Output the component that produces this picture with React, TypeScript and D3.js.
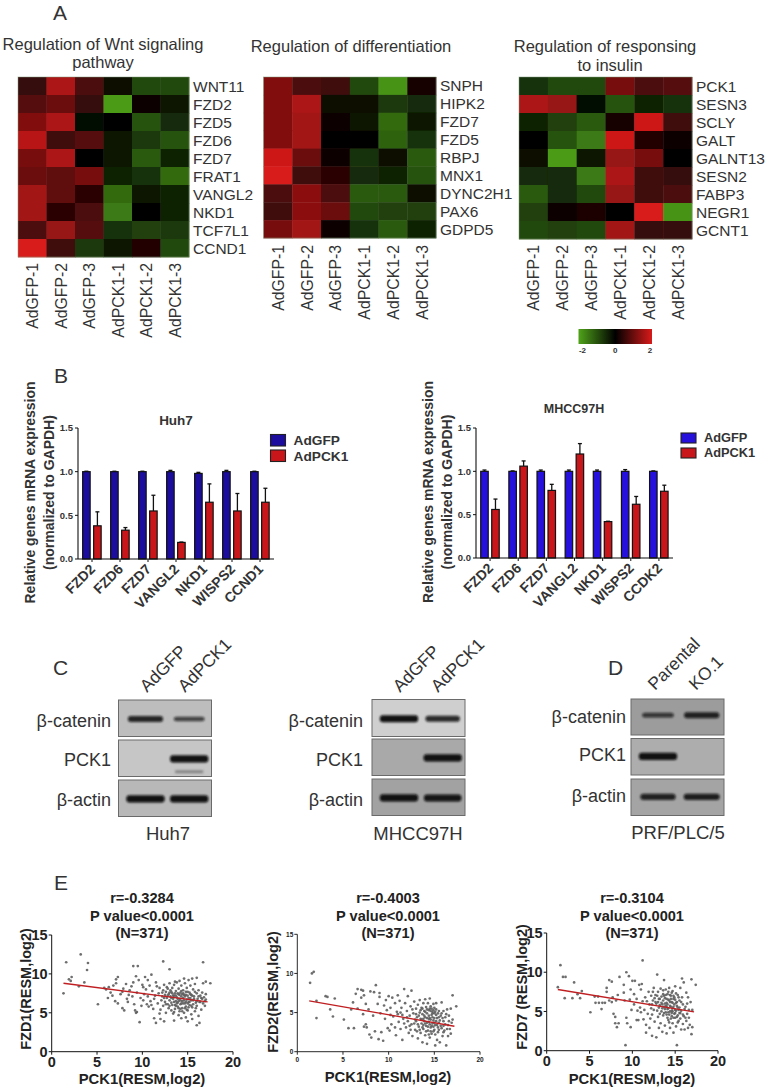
import React from "react";
import * as d3 from "d3";

const samples = ["AdGFP-1", "AdGFP-2", "AdGFP-3", "AdPCK1-1", "AdPCK1-2", "AdPCK1-3"];
const wntGenes = ["WNT11", "FZD2", "FZD5", "FZD6", "FZD7", "FRAT1", "VANGL2", "NKD1", "TCF7L1", "CCND1"];
const wntValues = [
  [0.5, 1.6, 0.7, -0.2, -0.9, -0.9],
  [0.8, 1.0, 0.5, -1.9, 0.1, -0.3],
  [1.2, 1.6, -0.1, -0.05, -1.0, -0.5],
  [1.7, 0.6, 0.8, -0.3, -0.7, -1.0],
  [1.1, 1.6, 0, -0.3, -1.1, -0.4],
  [1.0, 0.9, 1.1, -0.4, -0.6, -1.3],
  [1.5, 0.9, 0.4, -1.3, -0.3, -0.4],
  [1.5, 0.4, 0.7, -1.5, -0.05, -0.4],
  [0.7, 1.4, 0.8, -0.6, -0.8, -0.7],
  [2.0, 0.6, -0.7, -0.3, 0.3, -0.9],
];
const diffGenes = ["SNPH", "HIPK2", "FZD7", "FZD5", "RBPJ", "MNX1", "DYNC2H1", "PAX6", "GDPD5"];
const diffValues = [
  [1.2, 0.7, 0.6, -0.9, -1.8, 0.2],
  [1.2, 1.6, -0.2, -0.2, -0.7, -0.5],
  [1.2, 1.5, 0.1, -0.3, -1.3, -0.3],
  [1.2, 1.5, 0, 0, -1.2, -0.6],
  [1.9, 1.0, 0.15, -0.6, -0.2, -1.1],
  [2.0, 0.6, 0.4, -0.5, -0.4, -1.0],
  [0.7, 1.3, 0.7, -1.1, -1.1, -0.2],
  [0.6, 1.3, 1.0, -0.9, -0.8, -0.8],
  [1.1, 1.5, 0.1, -0.6, -1.1, -0.4],
];
const insulinGenes = ["PCK1", "SESN3", "SCLY", "GALT", "GALNT13", "SESN2", "FABP3", "NEGR1", "GCNT1"];
const insulinValues = [
  [-0.6, -0.9, -0.9, 1.1, 0.7, 0.8],
  [1.6, 1.4, -0.1, -1.0, -0.4, -0.6],
  [-0.4, -0.8, -1.1, 0.2, 1.9, 0.6],
  [0.05, -1.0, -1.5, 1.9, 0.3, 0.15],
  [-0.2, -1.9, -0.3, 1.4, 1.1, 0],
  [-0.5, -0.5, -1.5, 1.6, 0.6, 0.5],
  [-1.1, -0.5, -0.9, 1.4, 0.6, 0.7],
  [-0.8, 0.1, 0.25, 0, 2.0, -1.8],
  [-0.9, -0.8, -0.9, 1.5, 0.5, 0.5],
];
const heatTicks = [-2, 0, 2];
const barTicks = [0, 0.5, 1, 1.5];

const huhGenes = ["FZD2", "FZD6", "FZD7", "VANGL2", "NKD1", "WISPS2", "CCND1"];
const huhGfp = [1, 1, 1, 1, 0.98, 1, 1];
const huhGfpErr = [0.005, 0.005, 0.005, 0.015, 0.012, 0.015, 0.005];
const huhPck = [0.38, 0.33, 0.55, 0.19, 0.65, 0.55, 0.65];
const huhPckErr = [0.16, 0.03, 0.18, 0.004, 0.21, 0.2, 0.16];
const mhccGenes = ["FZD2", "FZD6", "FZD7", "VANGL2", "NKD1", "WISPS2", "CCDK2"];
const mhccGfp = [1, 1, 1, 1, 1, 1, 1];
const mhccGfpErr = [0.015, 0.005, 0.015, 0.015, 0.015, 0.02, 0.005];
const mhccPck = [0.56, 1.06, 0.78, 1.2, 0.42, 0.62, 0.77];
const mhccPckErr = [0.12, 0.06, 0.07, 0.12, 0.004, 0.09, 0.07];

const scatterXTicks = [0, 5, 10, 15, 20];
const scatterYTicks = [0, 5, 10, 15];

const fzd1Points: number[][] = [
  [1.3,7.5],[1.6,11.5],[1.9,9.3],[2.1,9.1],[2.2,9.6],[3.2,12.5],[3,8.4],[3.6,8.9],[4,11.4],[3.9,10.5],[5.1,6.1],[5.8,8.2],[6,8],[6.3,8.3],[6.5,7.6],[6.7,7.2],[7.1,9.3],[7.3,9.6],[7.1,8.8],[6.8,8.5],[7.3,6.2],[7,6.5],[7.8,5.6],[8,5.3],[7.8,7.7],[8.2,8.7],[8.5,7.3],[8.8,8.4],[9,11],[9.5,11],[9.3,9.7],[9.6,9.2],[9.1,6.1],[9.2,5.3],[9.3,5],[9.4,5.1],[9.7,3.8],[10,8.6],[10.1,8.3],[10.3,9.6],[10.6,9.2],[11,9.9],[10.5,6.1],[10.7,5.8],[11,6],[11.3,4.3],[11.5,3.7],[12,4.2],[12.4,3.9],[12.3,11.6],[13,10.6],[13.5,4],[14.3,4.3],[14.8,4.4],[15,3.9],[15.5,4.2],[16,3.4],[16.3,3.7],[16.7,11.5],[17,9],[17.5,8.8],[16.7,8.8],[16,9.5],[15.5,9.4],
  [8.4,6.4],[8.9,7.1],[9.4,7.6],[9.8,6.9],[10.2,7.4],[10.4,8],[10.8,8.5],[11.1,7.8],[11.3,6.8],[11.4,7.2],[11.5,8.9],[11.7,6.2],[11.8,7.5],[11.9,8.2],[12,5.4],[12.1,6.6],[12.2,7.1],[12.3,7.9],[12.3,5.9],[12.4,8.6],[12.5,6.4],[12.5,7.3],[12.6,5],[12.6,7.7],[12.7,6.9],[12.7,8.3],[12.8,6.1],[12.9,7.4],[12.9,5.6],[13,8.8],[13,6.6],[13.1,7.1],[13.1,7.9],[13.2,5.3],[13.2,6.3],[13.3,8.2],[13.3,7.5],[13.4,6.8],[13.4,4.9],[13.5,7.2],[13.5,8.6],[13.6,6],[13.6,5.5],[13.7,7.8],[13.7,6.5],[13.8,8.9],[13.8,7],[13.9,5.8],[13.9,6.3],[14,8.1],[14,7.4],[14,4.7],[14.1,6.8],[14.1,5.2],[14.2,7.6],[14.2,6.1],[14.3,8.5],[14.3,7.1],[14.4,5.6],[14.4,6.5],[14.5,7.9],[14.5,6.9],[14.6,5],[14.6,7.3],[14.7,8.8],[14.7,6.2],[14.8,7.7],[14.8,5.8],[14.9,6.7],[14.9,8.2],[15,7.2],[15,5.3],[15.1,6.4],[15.1,9.2],[15.2,7.6],[15.2,6],[15.3,8.5],[15.3,6.9],[15.4,4.8],[15.4,7.3],[15.5,5.7],[15.6,8],[15.6,6.6],[15.7,7.1],[15.8,5.2],[15.8,8.7],[15.9,6.3],[16,7.5],[16,5.9],[16.1,6.8],[16.2,4.6],[16.2,7.9],[16.3,6.4],[16.4,7.2],[16.5,5.4],[16.5,6.9],[16.6,7.6],[16.7,6.2],[16.8,7],[16.9,5.9],[17,6.7],[17,7.4],
  [6.2,6.9],[7.6,7.4],[7.9,8.1],[8.3,6.8],[8.6,7.9],[9,8.9],[9.9,5.9],[10.1,6.6],[10.6,7.1],[10.9,6.5],[11.2,5.5],[11.6,8.4],[11.9,4.9],[12.8,8.1],[13.6,9],[14.1,9.1],[14.6,9.4],
  [12.2,7.6],[12.4,6.9],[12.6,6.1],[12.8,7.2],[13,7.6],[13,5.9],[13.2,6.9],[13.2,7.7],[13.3,6],[13.4,7.2],[13.5,6.4],[13.5,5.1],[13.6,7.5],[13.7,5.9],[13.7,7.2],[13.8,6.2],[13.9,7.5],[13.9,6.8],[14,5.6],[14,6.5],[14.1,7.3],[14.2,6.6],[14.2,5.5],[14.3,7.8],[14.3,6.2],[14.4,7.4],[14.4,5.2],[14.5,6.2],[14.5,7.5],[14.6,6.6],[14.7,5.6],[14.7,7.1],[14.8,6.4],[14.8,7.3],[14.9,5.4],[15,6.2],[15,7.7],[15.1,5.7],[15.1,6.9],[15.2,6.4],[15.3,7.4],[15.4,5.9],[15.4,6.6],[15.5,7.2],[15.6,6.1],[15.7,6.8],[15.8,7.7],[15.9,5.6],[16,6.5],[16.2,7.1],[16.4,6.4],[16.6,6.8],[16.9,6.5],
];
const fzd2Points: number[][] = [
  [1.4,8.8],[1.6,10],[1.8,10.2],[2.1,6.5],[2.1,4.3],[3.1,7.1],[3.3,7],[3.6,5.4],[3.9,4.5],[4.1,6.8],[5.1,4.1],[5.6,3],[5.9,5.4],[6.1,6.3],[6.2,3],[6.4,7.4],[6.6,5.5],[6.6,8],[7,6.9],[7,7.9],[7.2,7.8],[7.3,7.2],[7.2,4.8],[7.3,3.2],[7.5,3.5],[7.5,6.1],[7.6,3.1],[7.8,5.4],[7.9,2.2],[8,7.7],[8.1,1.8],[8.3,4.6],[8.4,7.6],[8.5,2.6],[8.6,8.5],[8.8,6.1],[9,7.5],[9,7],[9.1,4.9],[9.2,2.5],[8.9,1.6],[9.4,1.4],[9.5,5.9],[9.6,4.2],[9.7,6.6],[9.9,3],[10,7.1],[10.1,2.7],[10.2,5.6],[10.3,3.5],[10.4,6.9],[10.5,4.5],[10.7,6.2],[10.8,2.1],[10.9,5.1],[11,7.2],[11.1,3.8],[11.2,6.5],[11.3,2.9],[11.4,5.6],[11.5,1.5],[11.6,4.2],[11.7,8],[11.8,6.2],[11.9,3.1],[12,5.2],[12.1,7.1],[12.2,2.4],[12.3,4.6],[12.4,5.8],[12.5,7.8],[12.5,3.5],[12.6,2],[12.7,4.9],[12.8,6.4],[12.9,2.8],[13,5.5],[13,3.9],[13.1,4.4],[13.2,6],[13.2,1.7],[13.3,3.2],[13.4,5],[13.4,6.6],[13.5,2.4],[13.5,4.2],[13.6,5.6],[13.6,3.6],[13.7,1.2],[13.7,4.8],[13.8,6.2],[13.8,2.9],[13.9,5.2],[13.9,3.9],[14,6.7],[14,2.1],[14,4.4],[14.1,5.7],[14.1,3.3],[14.2,1],[14.2,4.9],[14.3,6.2],[14.3,2.7],[14.4,5.3],[14.4,3.8],[14.5,4.3],[14.5,6.8],[14.5,1.8],[14.6,5.8],[14.6,3.1],[14.7,4.7],[14.7,2.3],[14.8,5.1],[14.8,3.6],[14.9,6.1],[14.9,4],[15,2.8],[15,4.9],[15.1,0.8],[15.1,3.4],[15.2,6.2],[15.2,5.4],[15.3,1.5],[15.3,4.3],[15.4,2.5],[15.5,5.2],[15.5,3.7],[15.6,1.2],[15.7,4.6],[15.8,6.3],[15.8,3],[15.9,2],[16,5.2],[16,3.9],[16.1,2.7],[16.2,4.4],[16.3,0.8],[16.4,5.4],[16.5,3.4],[16.5,2],[16.6,4.6],[16.7,2.9],[16.8,5.5],[16.9,3.7],[17,7.2],[17,4.1],[17.4,5.8],
  [11,4.8],[11.3,5],[11.7,3.6],[12.1,3.9],[12.6,5.4],[12.9,4.1],[13.3,4.6],[13.6,4.1],[13.9,4.6],[14.2,3.7],[14.4,4.6],[14.6,5.2],[14.8,4.4],[15,5.6],[15.2,3.9],[15.5,4.4],[15.8,4.9],[16,3.3],[16.3,4.8],[10.2,4.7],[9.8,5.3],[10.7,3.1],[12.3,3.3],[13.1,2.6],[13.8,3.4],[14.9,2.6],[15.4,3.1],
  [11.5,4.7],[12,4.4],[12.4,2.8],[12.8,3.6],[13,4.8],[13.2,3.5],[13.4,2.8],[13.5,5.3],[13.7,3.1],[13.7,5.5],[13.8,4.2],[14,3.6],[14,5.1],[14.1,2.6],[14.2,4.3],[14.2,5.4],[14.3,3.2],[14.4,4.2],[14.4,2.2],[14.5,3.5],[14.5,5.5],[14.6,4.1],[14.6,2.6],[14.7,5.5],[14.7,3.3],[14.8,4.9],[14.9,3.2],[14.9,5.3],[15,3.7],[15,4.3],[15.1,5.1],[15.1,2.2],[15.2,4.7],[15.3,3.4],[15.4,4.9],[15.5,2.8],[15.6,4],[15.7,3.3],[15.9,4.3],[16,2.5],[16.2,3.5],[16.4,2.9],[16.6,3.9],[16.8,2.3],
];
const fzd7Points: number[][] = [
  [1.3,8.1],[1.6,10.9],[1.9,9.4],[2.2,9.4],[2.1,6.7],[3,6.7],[3.2,8.7],[3.6,7.2],[3.9,6.7],[4.1,7.6],[5.1,4.9],[5.6,6.9],[5.7,6.1],[6,6.9],[6.1,6.1],[6.4,5.3],[6.5,6.1],[6.8,6.1],[7,7.5],[7,8],[7.3,6.4],[7.3,9],[7.6,8.8],[7.6,6.2],[7.7,6.8],[7.8,4.7],[8,4.3],[8.1,6.4],[8,3.5],[8.2,3],[8.3,7.1],[8.4,3.5],[8.5,9.4],[9,8.4],[9,7.4],[9.1,6.4],[9.3,10],[9.3,4.2],[9.4,3.5],[9.2,0.7],[9.6,9.5],[9.7,6.5],[9.8,7.8],[9.8,3],[10,8.9],[10.2,7.2],[10.3,8.9],[10.5,6.6],[10.5,3.9],[10.7,3.9],[10.8,8.4],[11,4.9],[11,7.8],[11.2,11.5],[11.1,8.5],[11.2,6.3],[11.3,4],[11.5,6.8],[11.6,3.3],[11.6,2.3],[11.8,4.7],[11.9,7.5],[12,5.9],[12,2.9],[12.2,7],[12.3,1.9],[12.3,4.6],[12.4,6.4],[12.5,5.2],[12.5,8],[12.6,3.7],[12.7,7.1],[12.8,1.7],[12.8,6],[12.9,9.7],[13,4.3],[13,7.5],[13.1,5.5],[13.1,2.9],[13.2,6.6],[13.3,7.9],[13.3,3.5],[13.4,5],[13.4,6.1],[13.5,2.4],[13.6,7.2],[13.6,4.5],[13.7,5.6],[13.7,9],[13.8,6.7],[13.8,3.2],[13.9,4.9],[13.9,7.8],[14,6.1],[14,2.2],[14.1,5.3],[14.1,7.2],[14.2,3.9],[14.2,6.5],[14.3,4.6],[14.3,8],[14.4,5.7],[14.4,2.9],[14.5,7],[14.5,4.1],[14.6,6.2],[14.6,5.1],[14.7,7.6],[14.7,3.5],[14.8,5.6],[14.8,2.3],[14.9,4.7],[14.9,6.8],[15,5.2],[15,8.2],[15.1,3.1],[15.1,6.1],[15.2,0.7],[15.2,4.3],[15.3,7.1],[15.3,5.5],[15.4,3.8],[15.5,6.4],[15.5,4.8],[15.6,8],[15.7,2.7],[15.7,5.1],[15.8,9.2],[15.8,6.8],[15.9,3.4],[16,4.4],[16,8.7],[16.1,2.7],[16.2,5.6],[16.3,7.4],[16.3,3.8],[16.4,4.7],[16.5,6.8],[16.5,2.9],[16.6,5.2],[16.7,3.3],[16.8,6.2],[16.9,2.1],[16.9,9.1],[17,5.2],[17,3],[17.4,8.4],
  [10.9,5.5],[11.4,5.2],[11.7,6.3],[12.2,5.4],[12.6,6.7],[12.9,5.1],[13.2,4.7],[13.5,5.9],[13.8,5.3],[14,5.6],[14.2,4.9],[14.4,6.2],[14.6,4.4],[14.8,6.6],[15,4.2],[15.2,5.7],[15.4,5.2],[15.6,4.1],[15.9,5.9],[16.2,4.2],[10.2,5.9],[9.9,5.2],[10.6,5.1],[12.1,4.1],[12.4,7.5],[13,6.2],[13.6,7.7],[14.1,4.2],[14.7,5],[15.3,4.5],
  [12.3,5.9],[12.7,6.2],[12.9,7],[13.1,6.6],[13.2,5.8],[13.4,6.9],[13.5,5.4],[13.6,6.4],[13.7,4.8],[13.7,7],[13.8,6],[13.9,7.1],[13.9,5.7],[14,4.6],[14,6.6],[14.1,5.9],[14.2,7.5],[14.2,5.4],[14.3,6.4],[14.3,3.6],[14.4,5],[14.4,7.1],[14.5,5.6],[14.5,6.6],[14.6,7.4],[14.6,4.8],[14.7,6.1],[14.7,5.4],[14.8,7],[14.8,4.2],[14.9,5.9],[15,6.5],[15,4.8],[15.1,7.3],[15.1,5.1],[15.2,6.2],[15.3,3.6],[15.4,6.8],[15.5,5.5],[15.6,4.8],[15.7,6.2],[15.9,4.6],[16.1,5.3],[16.4,6],[16.6,4.2],
];

const blotLanes = ["left", "right"];
const huhCatenin = [0.75, 0.45];
const huhPckBand = [0, 0.95];
const huhActin = [0.95, 0.95];
const mhccCatenin = [0.95, 0.7];
const mhccPckBand = [0, 0.95];
const mhccActin = [0.95, 0.9];
const prfCatenin = [0.5, 0.75];
const prfPckBand = [0.95, 0];
const prfActin = [0.75, 0.8];

const sans = "'Liberation Sans', Arial, sans-serif";
const ink = "#333";
const color = d3.scaleLinear<string>().domain([-2, 0, 2]).range(["#4fa31a", "#000000", "#d81a1a"]);

function Heatmap({ x0, x1, y0, y1, genes, values, labelTop }: any) {
  const xS = d3.scaleBand<string>().domain(samples).range([x0, x1]);
  const yS = d3.scaleBand<string>().domain(genes).range([y0, y1]);
  return (
    <g>
      <g filter="url(#soft)">
        {values.map((row: number[], r: number) =>
          row.map((v, c) => (
            <rect key={`${r}-${c}`} x={xS(samples[c])} y={yS(genes[r])} width={xS.bandwidth() + 0.4} height={yS.bandwidth() + 0.4} fill={color(v)} />
          ))
        )}
      </g>
      <rect x={x0} y={y0} width={x1 - x0} height={y1 - y0} fill="none" stroke="#7f9a76" strokeWidth={0.7} opacity={0.7} />
      {genes.map((g: string) => (
        <text key={g} x={x1 + 4} y={yS(g)! + yS.bandwidth() / 2 + 5.5} fontSize={15.5} fill={ink} fontFamily={sans}>{g}</text>
      ))}
      {samples.map((s) => (
        <text key={s} transform={`translate(${xS(s)! + xS.bandwidth() / 2 + 6},${labelTop}) rotate(-90)`} textAnchor="end" fontSize={15.8} fill={ink} fontFamily={sans}>{s}</text>
      ))}
    </g>
  );
}

function Bars({ x0, x1, yTop, yBase, title, titleX, titleY, genes, gfp, gfpErr, pck, pckErr, blue, labelX, legendX, legendY, legendGap, swW, swH, legendText }: any) {
  const xS = d3.scaleBand<string>().domain(genes).range([x0, x1]);
  const yS = d3.scaleLinear().domain([0, 1.5]).range([yBase, yTop]);
  const w = 7.5;
  const bar = (key: string, cx: number, v: number, e: number, fill: string) => (
    <g key={key}>
      <line x1={cx} x2={cx} y1={yS(v)} y2={yS(v + e)} stroke="#111" strokeWidth={1.3} />
      <line x1={cx - 2} x2={cx + 2} y1={yS(v + e)} y2={yS(v + e)} stroke="#111" strokeWidth={1.3} />
      <rect x={cx - w / 2} y={yS(v)} width={w} height={yBase - yS(v)} fill={fill} stroke="#111" strokeWidth={1.2} />
    </g>
  );
  return (
    <g fontFamily={sans}>
      <text x={titleX} y={titleY} textAnchor="middle" fontWeight="bold" fontSize={title === "Huh7" ? 13.5 : 12.5} fill={ink}>{title}</text>
      {genes.map((g: string, i: number) => {
        const c = xS(g)! + xS.bandwidth() / 2;
        return (
          <g key={g}>
            {bar("a", c - 5.6, gfp[i], gfpErr[i], blue)}
            {bar("b", c + 5.4, pck[i], pckErr[i], "#c9161b")}
            <line x1={c} x2={c} y1={yBase} y2={yBase + 3} stroke="#111" strokeWidth={1} />
            <text transform={`translate(${c + 4},${yBase + 11}) rotate(-45)`} textAnchor="end" fontWeight="bold" fontSize={14} fill={ink}>{g}</text>
          </g>
        );
      })}
      <line x1={x0} x2={x1} y1={yBase} y2={yBase} stroke="#111" strokeWidth={1.1} />
      <line x1={x0} x2={x0} y1={yTop} y2={yBase} stroke="#111" strokeWidth={1.1} />
      {barTicks.map((t) => (
        <g key={t}>
          <line x1={x0 - 3} x2={x0} y1={yS(t)} y2={yS(t)} stroke="#111" strokeWidth={1} />
          <text x={x0 - 5} y={yS(t) + 3.3} textAnchor="end" fontWeight="bold" fontSize={9.5} fill={ink}>{d3.format(".1f")(t)}</text>
        </g>
      ))}
      <text transform={`translate(${labelX},${(yTop + yBase) / 2 - 1}) rotate(-90)`} textAnchor="middle" fontWeight="bold" fontSize={14} fill={ink}>
        <tspan x={0} dy={0}>Relative genes mRNA expression</tspan>
        <tspan x={0} dy={18.5}>(normalized to GAPDH)</tspan>
      </text>
      {[["AdGFP", blue], ["AdPCK1", "#c9161b"]].map(([n, f], i) => (
        <g key={n}>
          <rect x={legendX} y={legendY + i * legendGap} width={swW} height={swH} fill={f} stroke="#222" strokeWidth={1.1} />
          <text x={legendX + swW + 8} y={legendY + i * legendGap + swH - 1} fontWeight="bold" fontSize={legendText} fill={ink}>{n}</text>
        </g>
      ))}
    </g>
  );
}

function Blot({ x, y, w, h, bg, levels, extra, bandAt = 0.52 }: any) {
  const laneX = d3.scalePoint<string>().domain(blotLanes).range([x + w * 0.29, x + w * 0.76]);
  const bandW = d3.scaleLinear().domain([0, 1]).range([24, 39]);
  const bandH = d3.scaleLinear().domain([0, 1]).range([2, 7.5]);
  return (
    <g>
      <rect x={x} y={y} width={w} height={h} fill={bg} stroke="#6a6a6a" strokeWidth={1} />
      {blotLanes.map((l, i) =>
        levels[i] > 0 ? (
          <rect key={l} filter="url(#band)" x={laneX(l)! - bandW(levels[i]) / 2} y={y + h * bandAt - bandH(levels[i]) / 2} width={bandW(levels[i])} height={bandH(levels[i])} rx={3} fill="#0a0a0a" opacity={0.45 + levels[i] * 0.55} />
        ) : null
      )}
      {extra ? <rect filter="url(#band)" x={laneX("right")! - 14} y={y + h * 0.87 - 1.5} width={28} height={3} fill="#444" opacity={0.5} /> : null}
    </g>
  );
}

function Scatter({ x0, x1, yTop, yBase, points, line, titleR, titleX, titleY, xLabel, yLabel, yLabelX, yLabelY, xLabelY, tickSize, lw }: any) {
  const xS = d3.scaleLinear().domain([0, 20]).range([x0, x1]);
  const yS = d3.scaleLinear().domain([0, 15]).range([yBase, yTop]);
  const small = tickSize < 10;
  return (
    <g fontFamily={sans} fill="#222">
      {["r=" + titleR, "P value<0.0001", "(N=371)"].map((t, i) => (
        <text key={t} x={titleX} y={titleY + i * 17.5} textAnchor="middle" fontWeight="bold" fontSize={14.6}>{t}</text>
      ))}
      {points.map((p: number[], i: number) => (
        <circle key={i} cx={xS(p[0])} cy={yS(p[1])} r={1.35} fill="#5e5e5e" opacity={0.9} />
      ))}
      <line x1={xS(line[0])} y1={yS(line[1])} x2={xS(line[2])} y2={yS(line[3])} stroke="#c01f22" strokeWidth={1.3} />
      <line x1={x0} x2={x1} y1={yBase} y2={yBase} stroke="#111" strokeWidth={lw} />
      <line x1={x0} x2={x0} y1={yTop} y2={yBase} stroke="#111" strokeWidth={lw} />
      {scatterXTicks.map((t) => (
        <g key={t}>
          <line x1={xS(t)} x2={xS(t)} y1={yBase} y2={yBase + 3} stroke="#111" strokeWidth={lw} />
          <text x={xS(t)} y={yBase + (small ? 10 : 15.5)} textAnchor="middle" fontWeight="bold" fontSize={tickSize}>{t}</text>
        </g>
      ))}
      {scatterYTicks.map((t) => (
        <g key={t}>
          <line x1={x0 - 3} x2={x0} y1={yS(t)} y2={yS(t)} stroke="#111" strokeWidth={lw} />
          <text x={x0 - 4} y={yS(t) + tickSize * 0.36} textAnchor="end" fontWeight="bold" fontSize={tickSize}>{t}</text>
        </g>
      ))}
      <text x={titleX} y={xLabelY} textAnchor="middle" fontWeight="bold" fontSize={14.8}>{xLabel}</text>
      <text transform={`translate(${yLabelX},${yLabelY}) rotate(-90)`} textAnchor="middle" fontWeight="bold" fontSize={14.5}>{yLabel}</text>
    </g>
  );
}

export default function App() {
  const cbScale = d3.scaleLinear().domain([-2, 2]).range([578.5, 652]);
  const rowLabel = (t: string, x: number, y: number) => (
    <text key={t + y} x={x} y={y} textAnchor="end" fontSize={18} fill={ink} fontFamily={sans}>{t}</text>
  );
  const rot = (t: string, x: number, y: number) => (
    <text key={t + x} transform={`translate(${x},${y}) rotate(-45)`} fontSize={17.5} fill={ink} fontFamily={sans}>{t}</text>
  );
  const letter = (t: string, x: number, y: number) => (
    <text key={t} x={x} y={y} fontSize={21} fill={ink} fontFamily={sans}>{t}</text>
  );
  const title = (t: string, x: number, y: number) => (
    <text key={t} x={x} y={y} textAnchor="middle" fontSize={16.5} fill={ink} fontFamily={sans}>{t}</text>
  );
  return (
    <svg width={774} height={1088} viewBox="0 0 774 1088" style={{ position: "absolute", left: 0, top: 0, display: "block", background: "#fff" }}>
      <defs>
        <filter id="soft" x="-2%" y="-2%" width="104%" height="104%"><feGaussianBlur stdDeviation="0.45" /></filter>
        <filter id="band" x="-30%" y="-150%" width="160%" height="400%"><feGaussianBlur stdDeviation="1.3" /></filter>
        <linearGradient id="cb">
          <stop offset="0%" stopColor={color(-2)} />
          <stop offset="50%" stopColor={color(0)} />
          <stop offset="100%" stopColor={color(2)} />
        </linearGradient>
      </defs>

      {letter("A", 53, 20)}
      {title("Regulation of Wnt signaling", 103, 50)}
      {title("pathway", 103, 68)}
      {title("Regulation of differentiation", 351, 52)}
      {title("Regulation of responsing", 605, 52)}
      {title("to insulin", 610, 71)}

      <Heatmap x0={18} x1={189} y0={77} y1={257} genes={wntGenes} values={wntValues} labelTop={263} />
      <Heatmap x0={263.5} x1={436} y0={77} y1={238} genes={diffGenes} values={diffValues} labelTop={245} />
      <Heatmap x0={519} x1={692} y0={77} y1={239} genes={insulinGenes} values={insulinValues} labelTop={245} />

      <rect x={cbScale(-2)} y={329} width={cbScale(2) - cbScale(-2)} height={15} fill="url(#cb)" />
      {heatTicks.map((t) => (
        <text key={t} x={cbScale(t) + (t === -2 ? 4 : t === 2 ? -2 : 0)} y={353} textAnchor="middle" fontSize={8} fontWeight="bold" fill={ink} fontFamily={sans}>{t}</text>
      ))}

      {letter("B", 54, 383)}
      <Bars x0={78} x1={274} yTop={428} yBase={559} title="Huh7" titleX={176} titleY={425} genes={huhGenes} gfp={huhGfp} gfpErr={huhGfpErr} pck={huhPck} pckErr={huhPckErr} blue="#1c0d9e" labelX={35} legendX={270.5} legendY={434.5} legendGap={15.5} swW={15} swH={11.5} legendText={13.7} />
      <Bars x0={476} x1={673} yTop={428} yBase={558} title="MHCC97H" titleX={574} titleY={413} genes={mhccGenes} gfp={mhccGfp} gfpErr={mhccGfpErr} pck={mhccPck} pckErr={mhccPckErr} blue="#2611dc" labelX={433} legendX={681} legendY={433} legendGap={15} swW={15} swH={10} legendText={12.8} />

      {letter("C", 53, 675)}
      {letter("D", 608, 675)}
      {rot("AdGFP", 147, 693)}
      {rot("AdPCK1", 185, 693)}
      {rot("AdGFP", 400, 693)}
      {rot("AdPCK1", 438, 693)}
      {rot("Parental", 655, 691)}
      {rot("KO.1", 696, 691)}

      <Blot x={118.5} y={700} w={93} h={36.5} bg="#bdbdbd" levels={huhCatenin} />
      <Blot x={118.5} y={740} w={93} h={36.5} bg="#c6c6c6" levels={huhPckBand} extra />
      <Blot x={118.5} y={780} w={93} h={36.5} bg="#b8b8b8" levels={huhActin} />
      <Blot x={372} y={699.5} w={93} h={37} bg="#cfcfcf" levels={mhccCatenin} />
      <Blot x={372} y={739} w={93} h={36.5} bg="#a9a9a9" levels={mhccPckBand} />
      <Blot x={372} y={779} w={93} h={36.5} bg="#a2a2a2" levels={mhccActin} />
      <Blot x={631} y={699} w={93} h={36} bg="#9c9c9c" levels={prfCatenin} bandAt={0.45} />
      <Blot x={631} y={738.5} w={93} h={36.5} bg="#adadad" levels={prfPckBand} bandAt={0.49} />
      <Blot x={631} y={779} w={93} h={36.5} bg="#a4a4a4" levels={prfActin} bandAt={0.49} />

      {rowLabel("β-catenin", 111, 727)}
      {rowLabel("PCK1", 111, 766)}
      {rowLabel("β-actin", 111, 806)}
      {rowLabel("β-catenin", 363, 727)}
      {rowLabel("PCK1", 363, 766)}
      {rowLabel("β-actin", 363, 806)}
      {rowLabel("β-catenin", 626, 723)}
      {rowLabel("PCK1", 626, 761)}
      {rowLabel("β-actin", 626, 802)}

      <text x={168} y={840} textAnchor="middle" fontSize={18.5} fill={ink} fontFamily={sans}>Huh7</text>
      <text x={418} y={840} textAnchor="middle" fontSize={18.5} fill={ink} fontFamily={sans}>MHCC97H</text>
      <text x={678} y={839} textAnchor="middle" fontSize={18.5} fill={ink} fontFamily={sans}>PRF/PLC/5</text>

      {letter("E", 54, 890)}
      <Scatter x0={51.7} x1={233} yTop={935} yBase={1051.7} points={fzd1Points} line={[1.3, 8.8, 17.2, 6.4]} titleR="-0.3284" titleX={142} titleY={903} xLabel="PCK1(RESM,log2)" yLabel="FZD1(RESM,log2)" yLabelX={31} yLabelY={989} xLabelY={1084} tickSize={14.5} lw={1} />
      <Scatter x0={297.3} x1={480} yTop={934.3} yBase={1051.7} points={fzd2Points} line={[1.3, 6.5, 17.2, 3.25]} titleR="-0.4003" titleX={388} titleY={903} xLabel="PCK1(RESM,log2)" yLabel="FZD2(RESM,log2)" yLabelX={278} yLabelY={992} xLabelY={1082} tickSize={6.5} lw={0.9} />
      <Scatter x0={546.7} x1={718} yTop={933} yBase={1050.7} points={fzd7Points} line={[1.3, 7.8, 17.2, 4.95]} titleR="-0.3104" titleX={632} titleY={903} xLabel="PCK1(RESM,log2)" yLabel="FZD7 (RESM,log2)" yLabelX={527} yLabelY={987} xLabelY={1083.5} tickSize={14.5} lw={1} />
    </svg>
  );
}
